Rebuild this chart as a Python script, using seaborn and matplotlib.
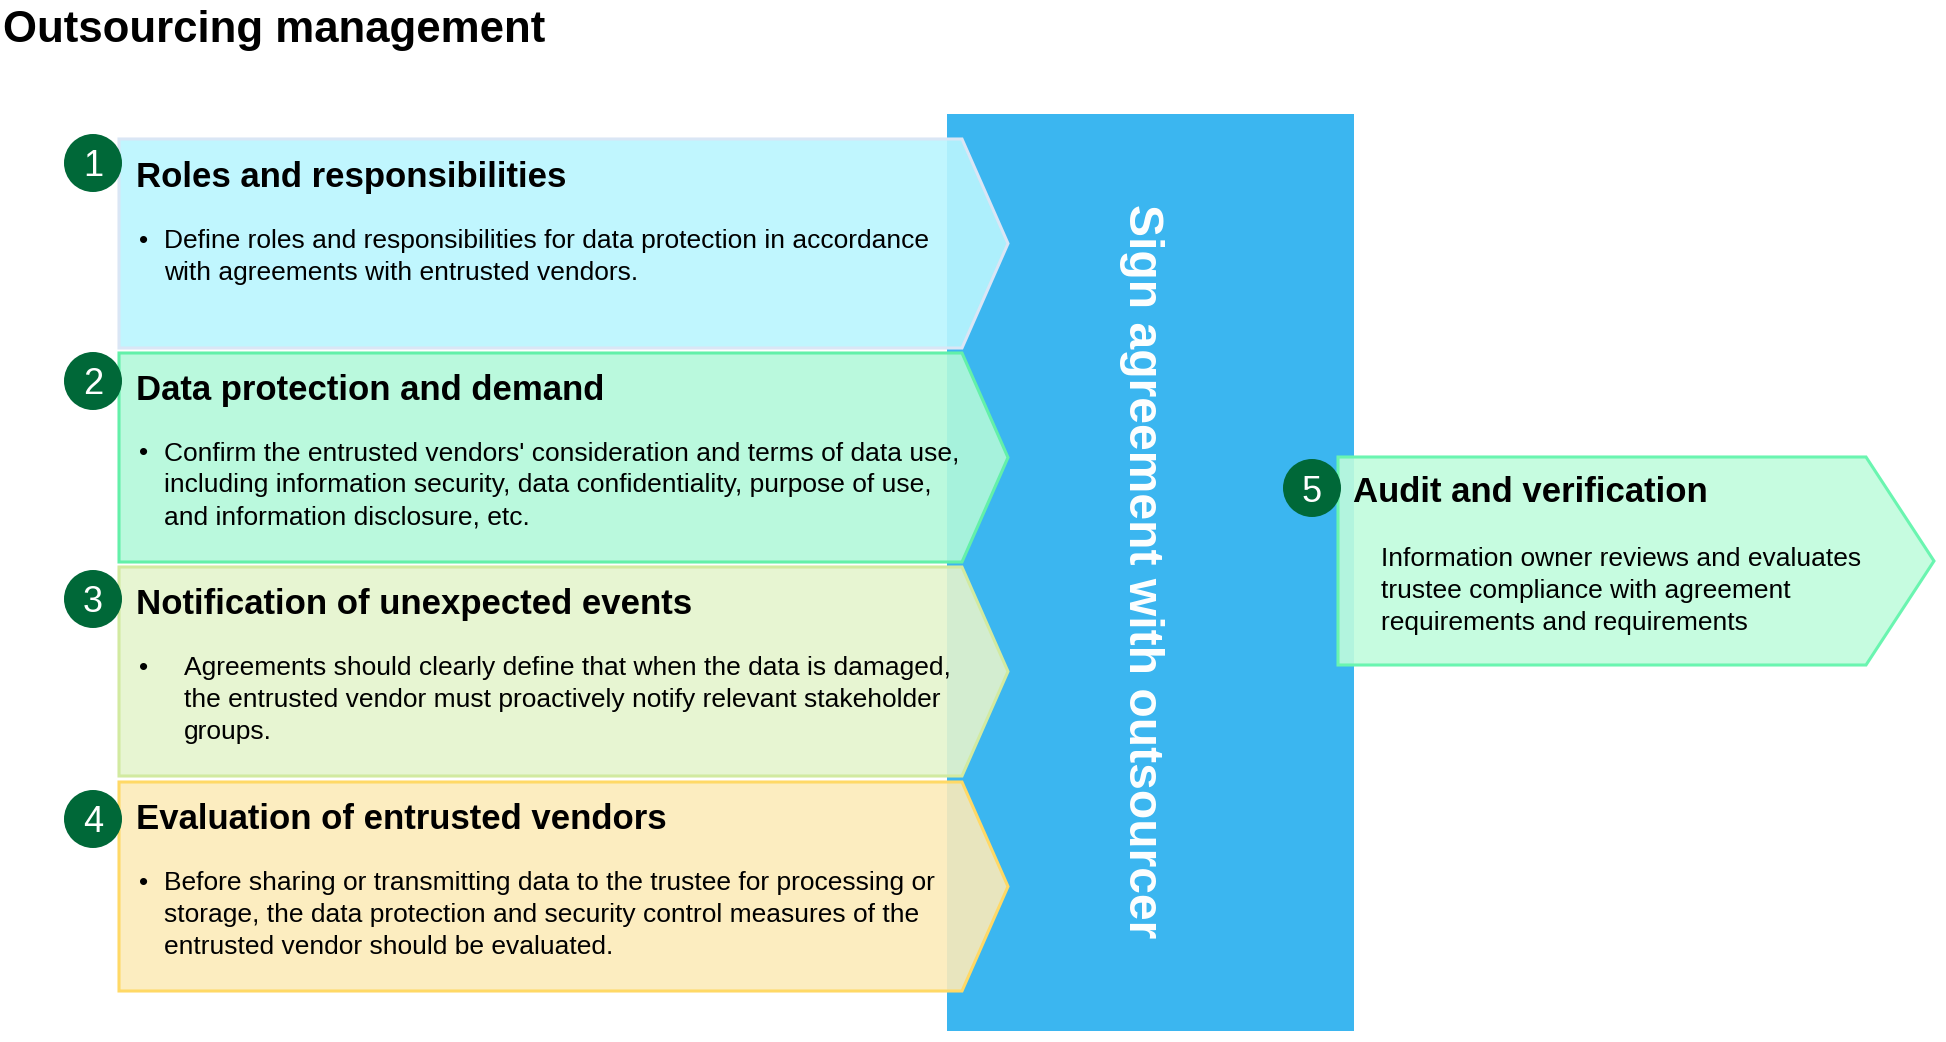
import numpy as np
import matplotlib
matplotlib.use("Agg")
from matplotlib import pyplot as plt
from matplotlib.patches import Polygon, Circle, Rectangle
from matplotlib.colors import to_rgb
import seaborn as sns

# ---chart content---
chart_title = "Outsourcing management"
center_label = "Sign agreement with outsourcer"

step_numbers = ["1", "2", "3", "4"]
step_titles = [
    "Roles and responsibilities",
    "Data protection and demand",
    "Notification of unexpected events",
    "Evaluation of entrusted vendors",
]
step_bodies = [
    ["Define roles and responsibilities for data protection in accordance",
     "with agreements with entrusted vendors."],
    ["Confirm the entrusted vendors' consideration and terms of data use,",
     "including information security, data confidentiality, purpose of use,",
     "and information disclosure, etc."],
    ["Agreements should clearly define that when the data is damaged,",
     "the entrusted vendor must proactively notify relevant stakeholder",
     "groups."],
    ["Before sharing or transmitting data to the trustee for processing or",
     "storage, the data protection and security control measures of the",
     "entrusted vendor should be evaluated."],
]

final_number = "5"
final_title = "Audit and verification"
final_body = [
    "Information owner reviews and evaluates",
    "trustee compliance with agreement",
    "requirements and requirements",
]

# ---colours---
step_fills = ["#C1F7FE", "#BBFADE", "#E8F5D2", "#FCEDC0"]
step_edges = ["#DAE6F5", "#63F0A9", "#D2EAA0", "#FFD966"]
final_fill = "#C6FCE0"
final_edge = "#6AF5B0"
blue = "#3BB6F0"
green = "#006838"
fill_alpha = 0.9


def see_through(hex_color, a=fill_alpha):
    # colour that looks like hex_color on white when drawn with alpha a
    c = (np.array(to_rgb(hex_color)) - (1 - a)) / a
    c = np.clip(c, 0, 1)
    return (c[0], c[1], c[2], a)


def arrow_box(ax, x0, x1, tip, top, bottom, fill, edge):
    mid = (top + bottom) / 2
    pts = [(x0, top), (x1, top), (tip, mid), (x1, bottom), (x0, bottom)]
    ax.add_patch(Polygon(pts, closed=True, facecolor=see_through(fill),
                         edgecolor=edge, linewidth=2.2, zorder=2))


sns.set_theme(style="white")
plt.rcParams['font.family'] = ['Liberation Sans', 'DejaVu Sans']

W, H = 1946, 1042
fig = plt.figure(figsize=(W / 100, H / 100), dpi=100)
ax = fig.add_axes([0, 0, 1, 1])
ax.set_xlim(0, W)
ax.set_ylim(H, 0)
ax.axis('off')

# title
ax.text(3, 42, chart_title, fontsize=31.5, fontweight='heavy',
        ha='left', va='baseline', color='black')

# blue column
ax.add_patch(Rectangle((947, 114), 1354 - 947, 1031 - 114,
                       facecolor=blue, edgecolor='none', zorder=1))
ax.text(1129, 571, center_label, fontsize=34.6, fontweight='bold', color='white',
        rotation=-90, rotation_mode='anchor', ha='center', va='baseline',
        zorder=3)

# left steps
box_tops = [139, 353, 567, 782]
box_h = 209
circle_y = [163, 381, 599, 819]
title_base = [187, 400, 614, 829]
body_base = [248, 460, 675, 890]
body_x = [164, 164, 184, 164]
line_gap = 32

for i in range(len(step_titles)):
    top = box_tops[i]
    arrow_box(ax, 119, 962, 1008, top, top + box_h, step_fills[i], step_edges[i])
    ax.add_patch(Circle((93, circle_y[i]), 29, facecolor=green,
                        edgecolor='none', zorder=4))
    ax.text(93, circle_y[i], step_numbers[i], fontsize=26, color='white',
            ha='center', va='center_baseline', zorder=5)
    ax.text(136, title_base[i], step_titles[i], fontsize=25, fontweight='bold',
            ha='left', va='baseline', color='black', zorder=5)
    ax.text(139, body_base[i], "\u2022", fontsize=19, ha='left',
            va='baseline', color='black', zorder=5)
    for j, line in enumerate(step_bodies[i]):
        ax.text(body_x[i], body_base[i] + j * line_gap, line, fontsize=19,
                ha='left', va='baseline', color='black', zorder=5)

# final step
arrow_box(ax, 1338, 1866, 1934, 457, 665, final_fill, final_edge)
ax.add_patch(Circle((1312, 488), 29, facecolor=green, edgecolor='none', zorder=4))
ax.text(1312, 488, final_number, fontsize=26, color='white',
        ha='center', va='center_baseline', zorder=5)
ax.text(1353, 502, final_title, fontsize=25, fontweight='bold',
        ha='left', va='baseline', color='black', zorder=5)
for j, line in enumerate(final_body):
    ax.text(1381, 566 + j * line_gap, line, fontsize=19,
            ha='left', va='baseline', color='black', zorder=5)

fig.savefig("out.png", dpi=100, facecolor='white')
